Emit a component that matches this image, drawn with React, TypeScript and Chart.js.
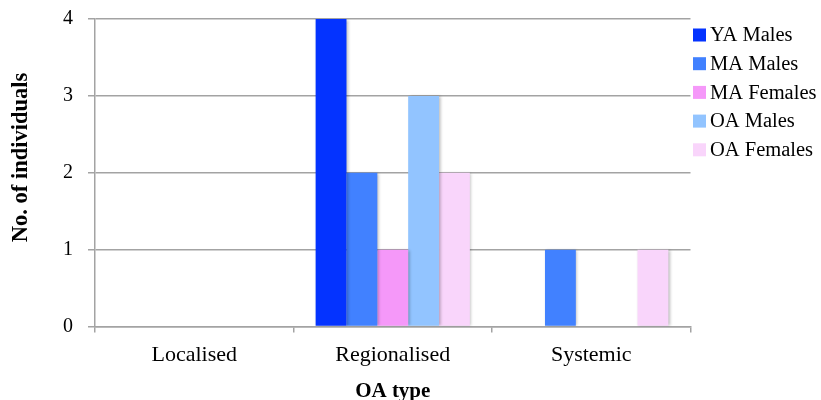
import React, { useEffect, useRef } from "react";
import { Chart, registerables } from "chart.js";

Chart.register(...registerables);

const categories = ["Localised", "Regionalised", "Systemic"];
const seriesNames = ["YA Males", "MA Males", "MA Females", "OA Males", "OA Females"];
const yaMales = [0, 4, 0];
const maMales = [0, 2, 1];
const maFemales = [0, 1, 0];
const oaMales = [0, 3, 0];
const oaFemales = [0, 2, 1];
const seriesColors = ["#0433FF", "#4181FF", "#F598F9", "#92C4FF", "#F9D5FB"];
const yTicks = [0, 1, 2, 3, 4];
const xTitle = "OA type";
const yTitle = "No. of individuals";

const FONT = "'Liberation Serif', 'Times New Roman', serif";
const GRID = "#a3a3a3";

const legendPlugin = {
  id: "customLegend",
  afterDraw(chart: any) {
    const { ctx, chartArea } = chart;
    ctx.save();
    ctx.font = `20.5px ${FONT}`;
    ctx.textBaseline = "middle";
    ctx.textAlign = "left";
    chart.data.datasets.forEach((ds: any, i: number) => {
      const cy = chartArea.top + 16 + i * 28.7;
      const bx = chartArea.right + 2.5;
      ctx.fillStyle = ds.backgroundColor;
      ctx.fillRect(bx, cy - 6.5, 13, 13);
      ctx.fillStyle = "#000";
      ctx.fillText(ds.label, bx + 17, cy + 1);
    });
    ctx.restore();
  },
};

const yTitlePlugin = {
  id: "yTitle",
  afterDraw(chart: any) {
    const { ctx, chartArea } = chart;
    ctx.save();
    ctx.font = `bold 22.5px ${FONT}`;
    ctx.textBaseline = "middle";
    ctx.textAlign = "center";
    ctx.fillStyle = "#000";
    ctx.translate(21, chartArea.top + 138.5);
    ctx.rotate(-Math.PI / 2);
    ctx.fillText(yTitle, 0, 0);
    ctx.restore();
  },
};

const shadowPlugin = {
  id: "barShadow",
  beforeDatasetsDraw(chart: any) {
    const ctx = chart.ctx;
    ctx.save();
    ctx.shadowColor = "rgba(0,0,0,0.28)";
    ctx.shadowBlur = 3;
    ctx.shadowOffsetX = 1.5;
    ctx.shadowOffsetY = 0.5;
  },
  afterDatasetsDraw(chart: any) {
    chart.ctx.restore();
  },
};

export default function App() {
  const ref = useRef<HTMLCanvasElement | null>(null);
  useEffect(() => {
    if (!ref.current) return;
    const values = [yaMales, maMales, maFemales, oaMales, oaFemales];
    const chart = new Chart(ref.current, {
      type: "bar",
      data: {
        labels: categories,
        datasets: seriesNames.map((name, i) => ({
          label: name,
          data: values[i],
          backgroundColor: seriesColors[i],
          borderWidth: 0,
          categoryPercentage: 0.777,
          barPercentage: 1,
        })),
      },
      options: {
        animation: false,
        responsive: true,
        maintainAspectRatio: false,
        layout: { padding: { left: 0, right: 130.5, top: 19, bottom: 0 } },
        plugins: {
          legend: { display: false },
          tooltip: { enabled: false },
        },
        scales: {
          x: {
            offset: true,
            grid: {
              offset: true,
              drawOnChartArea: false,
              drawTicks: true,
              tickLength: 6,
              color: GRID,
              lineWidth: 1.5,
            },
            border: { color: GRID, width: 1.5 },
            ticks: {
              color: "#000",
              font: { family: FONT, size: 22 },
              padding: 10,
              maxRotation: 0,
            },
            title: {
              display: true,
              text: xTitle,
              color: "#000",
              font: { family: FONT, size: 21, weight: "bold", lineHeight: 0.8 },
              padding: { top: 0, bottom: 0 },
            },
            afterFit(scale: any) {
              scale.height = 73.5;
              scale.paddingLeft = 0;
              scale.paddingRight = 0;
            },
          },
          y: {
            min: 0,
            max: 4,
            afterBuildTicks(scale: any) {
              scale.ticks = yTicks.map((v) => ({ value: v }));
            },
            grid: {
              color: GRID,
              lineWidth: 1.5,
              tickLength: 7,
            },
            border: { color: GRID, width: 1.5 },
            ticks: {
              color: "#000",
              font: { family: FONT, size: 20 },
              padding: 15,
            },
            title: { display: false },
            afterFit(scale: any) {
              scale.width = 95;
              scale.paddingTop = 0;
              scale.paddingBottom = 0;
            },
          },
        },
      },
      plugins: [shadowPlugin, legendPlugin, yTitlePlugin],
    });
    return () => chart.destroy();
  }, []);
  return (
    <div style={{ position: "fixed", left: 0, top: 0, width: 821, height: 400, background: "#fff" }}>
      <canvas ref={ref} />
    </div>
  );
}
